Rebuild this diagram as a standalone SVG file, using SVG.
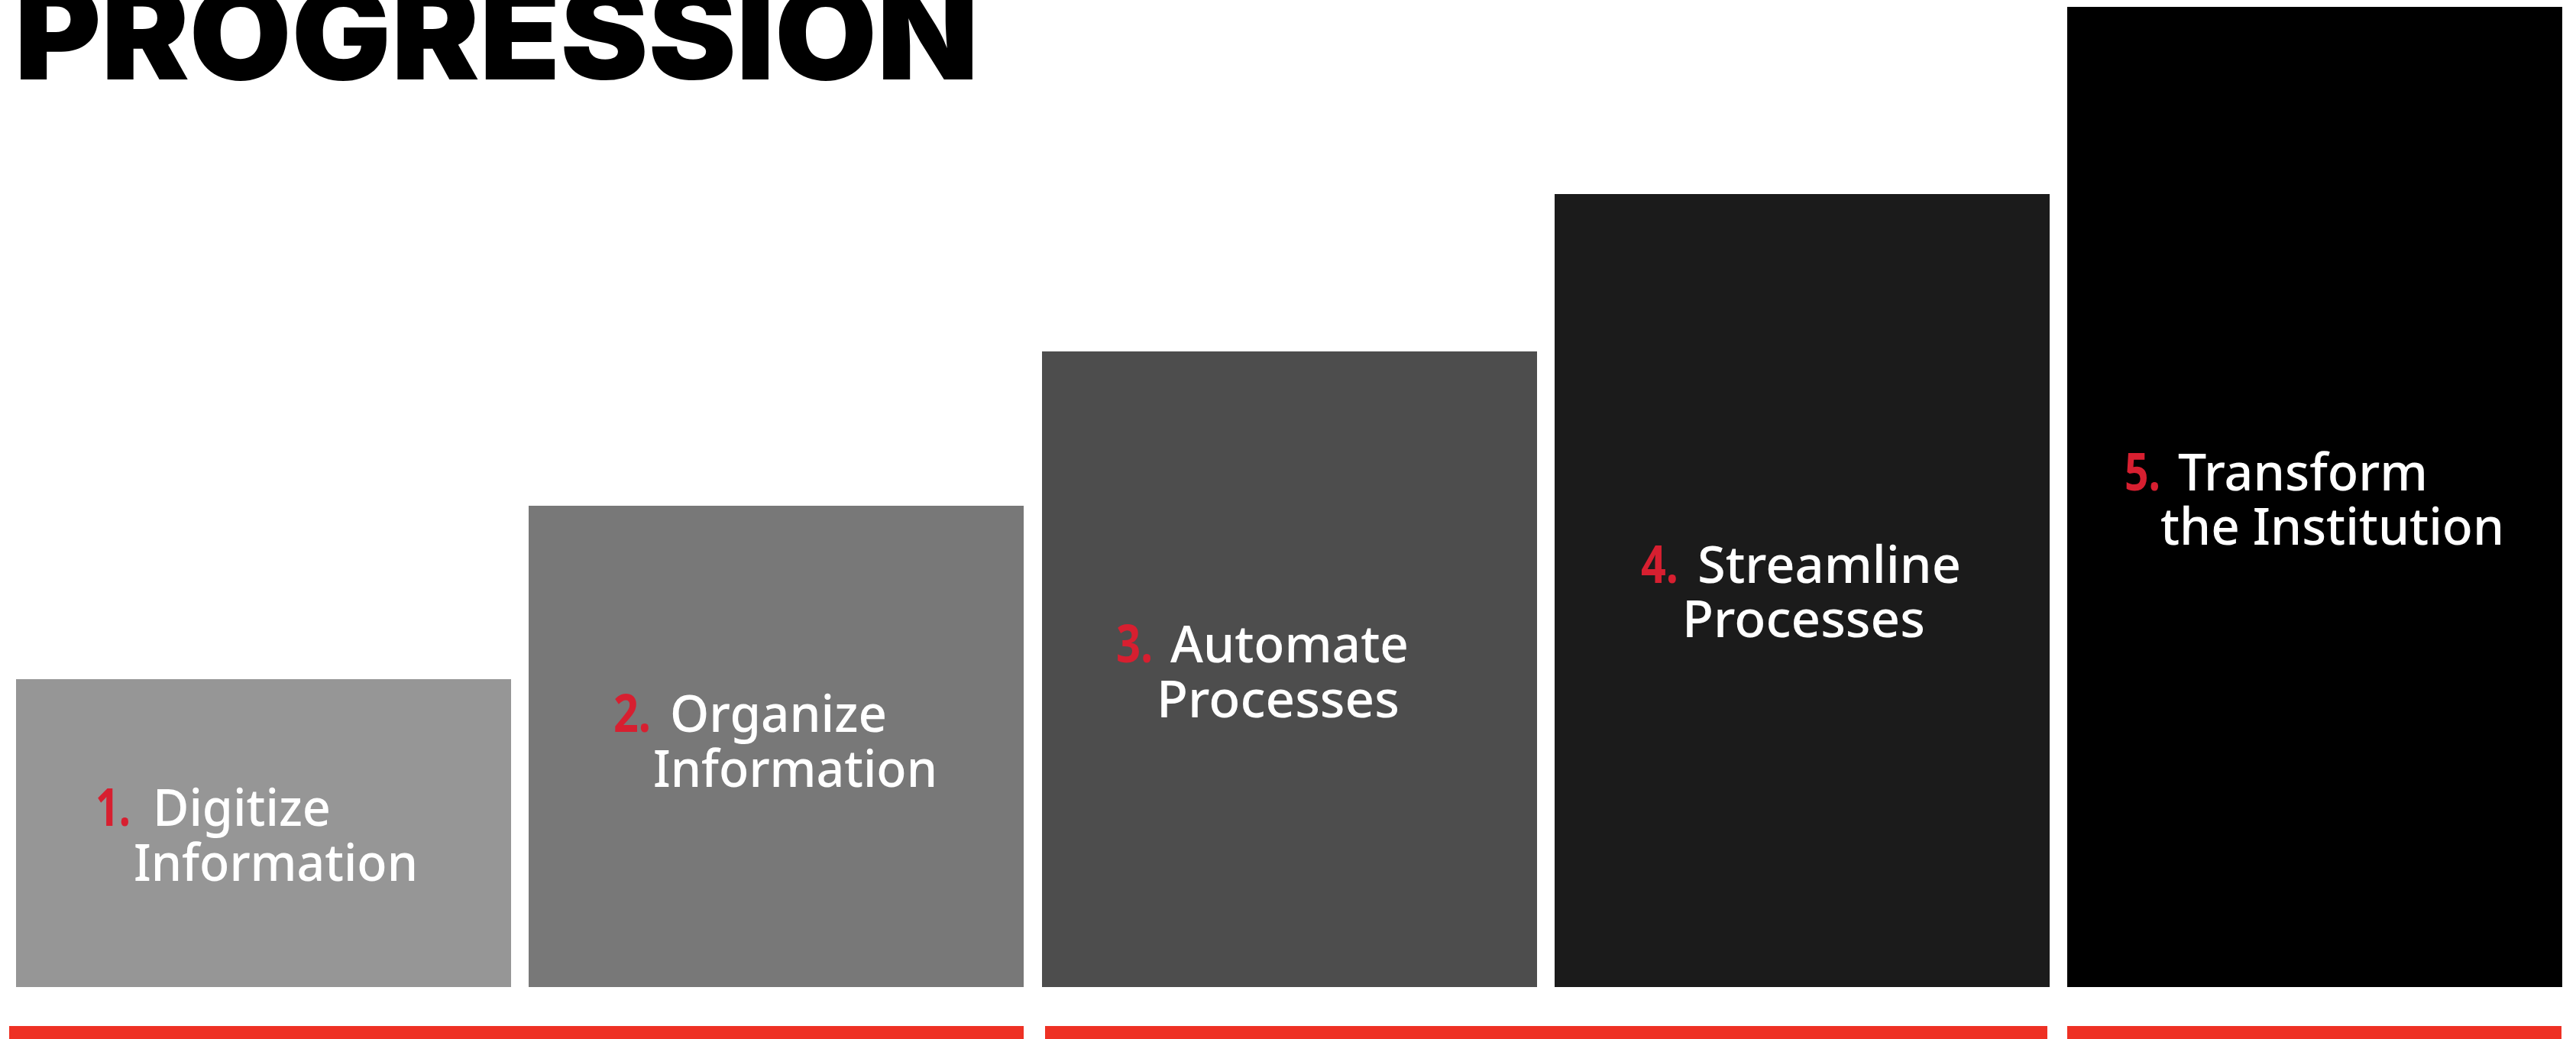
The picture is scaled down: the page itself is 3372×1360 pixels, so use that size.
<svg xmlns="http://www.w3.org/2000/svg" width="3372" height="1360" viewBox="0 0 3372 1360">
<style>
.title{font-family:Inter,"Roboto","Liberation Sans",sans-serif;font-weight:900;font-size:168px;fill:#000}
.lbl{font-family:"Noto Sans","Open Sans","Liberation Sans",sans-serif;font-weight:500;font-size:68px;fill:#ffffff}
.num{font-weight:700;fill:#D71F30}
.bar{fill:#EE3124}
</style>
<rect width="3372" height="1360" fill="#ffffff"/>
<text class="title" x="19" y="104" textLength="1262" lengthAdjust="spacingAndGlyphs">PROGRESSION</text>
<g id="step1">
<rect x="21" y="889" width="648" height="403" fill="#969696"/>
<text class="lbl"><tspan class="num" x="125" y="1081" textLength="46" lengthAdjust="spacingAndGlyphs">1.</tspan><tspan x="200" y="1081" textLength="233" lengthAdjust="spacingAndGlyphs">Digitize</tspan><tspan x="175" y="1153" textLength="372" lengthAdjust="spacingAndGlyphs">Information</tspan></text>
</g>
<g id="step2">
<rect x="692" y="662" width="648" height="630" fill="#787878"/>
<text class="lbl"><tspan class="num" x="803" y="958" textLength="49" lengthAdjust="spacingAndGlyphs">2.</tspan><tspan x="877" y="958" textLength="284" lengthAdjust="spacingAndGlyphs">Organize</tspan><tspan x="855" y="1030" textLength="372" lengthAdjust="spacingAndGlyphs">Information</tspan></text>
</g>
<g id="step3">
<rect x="1364" y="460" width="648" height="832" fill="#4D4D4D"/>
<text class="lbl"><tspan class="num" x="1461" y="867" textLength="48" lengthAdjust="spacingAndGlyphs">3.</tspan><tspan x="1532" y="867" textLength="312" lengthAdjust="spacingAndGlyphs">Automate</tspan><tspan x="1514" y="939" textLength="318" lengthAdjust="spacingAndGlyphs">Processes</tspan></text>
</g>
<g id="step4">
<rect x="2035" y="254" width="648" height="1038" fill="#1B1B1B"/>
<text class="lbl"><tspan class="num" x="2148" y="763" textLength="49" lengthAdjust="spacingAndGlyphs">4.</tspan><tspan x="2222" y="763" textLength="345" lengthAdjust="spacingAndGlyphs">Streamline</tspan><tspan x="2202" y="834" textLength="318" lengthAdjust="spacingAndGlyphs">Processes</tspan></text>
</g>
<g id="step5">
<rect x="2706" y="9" width="648" height="1283" fill="#000000"/>
<text class="lbl"><tspan class="num" x="2781" y="642" textLength="47" lengthAdjust="spacingAndGlyphs">5.</tspan><tspan x="2851" y="642" textLength="327" lengthAdjust="spacingAndGlyphs">Transform</tspan><tspan x="2828" y="713" textLength="450" lengthAdjust="spacingAndGlyphs">the Institution</tspan></text>
</g>
<g id="bars">
<rect class="bar" x="12" y="1343" width="1328" height="17"/>
<rect class="bar" x="1368" y="1343" width="1312" height="17"/>
<rect class="bar" x="2706" y="1343" width="647" height="17"/>
</g>
</svg>
